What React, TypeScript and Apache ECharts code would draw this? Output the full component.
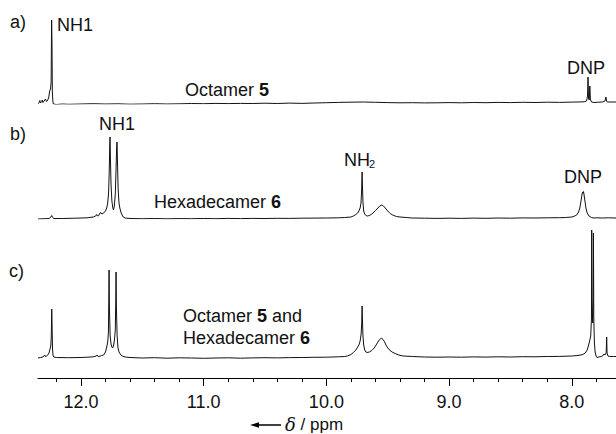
import React, { useEffect, useRef } from "react";
import * as echarts from "echarts";

// chemical shift range (ppm), axis runs right-to-left
const ppmMin = 7.64;
const ppmMax = 12.35;
const majorTicks = [8, 9, 10, 11, 12];
const minorTicks = [7.8, 8.2, 8.4, 8.6, 8.8, 9.2, 9.4, 9.6, 9.8, 10.2, 10.4, 10.6, 10.8, 11.2, 11.4, 11.6, 11.8, 12.2];

// a) Octamer 5  [ppm, intensity]
const traceA: number[][] = [
  [12.35, 0.5], [12.34, 1.5], [12.335, 3.5], [12.33, 1], [12.32, 2.5], [12.315, 4], [12.31, 1.5], [12.3, 3],
  [12.29, 5], [12.28, 2.5], [12.27, 4], [12.262, 7], [12.255, 13], [12.248, 15], [12.243, 22], [12.239, 84],
  [12.236, 60], [12.233, 12], [12.229, 3], [12.225, 0], [12.2, -0.5], [12.15, 0], [12.1, -0.3], [12.0, 0],
  [11.9, 0.3], [11.8, 0], [11.7, 0.2], [11.6, -0.2], [11.5, 0], [11.4, 0.3], [11.3, 0], [11.2, 0.2],
  [11.1, 0.5], [11.0, 0.3], [10.9, 0.6], [10.8, 0.4], [10.7, 0.6], [10.6, 0.5], [10.5, 0.8], [10.4, 0.5],
  [10.3, 0.9], [10.2, 0.6], [10.1, 1], [10.0, 1.3], [9.9, 1.6], [9.8, 1.8], [9.7, 2], [9.6, 1.7],
  [9.5, 1.4], [9.4, 1.2], [9.3, 1.3], [9.2, 1.1], [9.1, 1.2], [9.0, 1.4], [8.9, 1.2], [8.8, 1.5],
  [8.7, 1.3], [8.6, 1.6], [8.5, 1.4], [8.4, 1.7], [8.3, 1.5], [8.2, 1.8], [8.1, 1.6], [8.0, 1.9],
  [7.95, 2], [7.9, 2.2], [7.88, 3], [7.872, 8], [7.868, 27], [7.864, 6], [7.858, 4], [7.853, 18],
  [7.849, 5], [7.84, 2], [7.82, 1.5], [7.78, 1.8], [7.75, 2], [7.73, 3], [7.722, 7], [7.717, 3],
  [7.71, 2], [7.68, 2], [7.64, 2],
];

// b) Hexadecamer 6
const traceB: number[][] = [
  [12.35, 0], [12.3, 0.3], [12.26, 0.5], [12.245, 2], [12.238, 3.5], [12.23, 1.5], [12.22, 0.5], [12.15, 0.5],
  [12.05, 0.8], [11.95, 1.2], [11.9, 2], [11.88, 3], [11.872, 4.5], [11.865, 3], [11.855, 3.5], [11.845, 6],
  [11.838, 6.5], [11.83, 5], [11.815, 6], [11.8, 8], [11.79, 11], [11.782, 16], [11.775, 26], [11.77, 45],
  [11.766, 70], [11.763, 82], [11.76, 62], [11.755, 35], [11.748, 18], [11.74, 11], [11.735, 9], [11.728, 13],
  [11.72, 25], [11.714, 50], [11.709, 72], [11.706, 77], [11.702, 55], [11.697, 30], [11.69, 16], [11.683, 11],
  [11.675, 7], [11.665, 4], [11.655, 2], [11.64, 1], [11.6, 0.5], [11.5, 0.3], [11.4, 0.5], [11.3, 0.2],
  [11.2, 0.4], [11.1, 0.3], [11.0, 0.5], [10.9, 0.3], [10.8, 0.6], [10.7, 0.4], [10.6, 0.6], [10.5, 0.5],
  [10.4, 0.7], [10.3, 0.6], [10.2, 0.8], [10.1, 0.9], [10.0, 1], [9.9, 1.2], [9.85, 1.5], [9.8, 2],
  [9.78, 3], [9.76, 4.5], [9.745, 6], [9.735, 8], [9.725, 11], [9.718, 16], [9.713, 28], [9.709, 47],
  [9.706, 33], [9.702, 17], [9.696, 8], [9.688, 5], [9.678, 3.5], [9.665, 3], [9.65, 3.5], [9.635, 4.5],
  [9.62, 6], [9.6, 8.5], [9.58, 11], [9.565, 13], [9.548, 14], [9.535, 13], [9.52, 11], [9.5, 8],
  [9.48, 5.5], [9.46, 4], [9.43, 2.5], [9.4, 2], [9.35, 1.5], [9.3, 1], [9.2, 0.8], [9.1, 0.6],
  [9.0, 0.8], [8.9, 0.6], [8.8, 0.9], [8.7, 0.7], [8.6, 1], [8.5, 0.8], [8.4, 1.1], [8.3, 1],
  [8.2, 1.2], [8.1, 1.3], [8.05, 1.5], [8.0, 2], [7.98, 2.8], [7.96, 4], [7.945, 7], [7.935, 11],
  [7.925, 18], [7.918, 24], [7.912, 27], [7.908, 26], [7.905, 27.5], [7.9, 24], [7.893, 18], [7.885, 11],
  [7.875, 6], [7.86, 3], [7.84, 1.5], [7.82, 1], [7.8, 1.2], [7.75, 1], [7.7, 1.2], [7.64, 1],
];

// c) Octamer 5 and Hexadecamer 6
const traceC: number[][] = [
  [12.35, 0], [12.33, 0.5], [12.31, 1], [12.295, 3], [12.29, 1.5], [12.28, 2], [12.27, 3], [12.26, 5],
  [12.252, 9], [12.246, 12], [12.242, 20], [12.238, 49], [12.235, 30], [12.232, 10], [12.228, 3], [12.222, 1],
  [12.2, 0.5], [12.1, 0.3], [12.0, 0.5], [11.95, 0.8], [11.9, 1.2], [11.875, 2], [11.868, 3], [11.86, 1.5],
  [11.84, 2], [11.83, 2.5], [11.815, 3], [11.8, 6], [11.79, 11], [11.782, 16], [11.776, 26], [11.773, 60],
  [11.771, 88], [11.768, 50], [11.762, 22], [11.755, 14], [11.748, 11], [11.742, 10], [11.735, 12], [11.727, 18],
  [11.72, 28], [11.716, 60], [11.714, 86], [11.711, 50], [11.705, 22], [11.698, 10], [11.69, 6], [11.68, 4],
  [11.665, 2], [11.64, 1], [11.6, 0.5], [11.5, 0], [11.4, 0.3], [11.3, -0.2], [11.2, 0.2], [11.1, 0],
  [11.0, -0.3], [10.9, 0], [10.8, 0.2], [10.7, -0.2], [10.6, 0.1], [10.5, 0.3], [10.4, 0.1], [10.3, 0.4],
  [10.2, 0.5], [10.1, 0.7], [10.0, 0.8], [9.9, 1.2], [9.85, 1.5], [9.83, 2], [9.8, 3.5], [9.78, 5.5],
  [9.76, 8], [9.75, 10], [9.735, 13], [9.725, 17], [9.717, 24], [9.712, 35], [9.709, 52], [9.706, 38],
  [9.702, 22], [9.696, 13], [9.688, 8], [9.678, 6], [9.668, 5.5], [9.65, 6], [9.63, 7.5], [9.61, 10],
  [9.59, 14], [9.57, 18], [9.55, 20], [9.53, 17], [9.51, 12], [9.49, 8.5], [9.465, 6], [9.44, 4.5],
  [9.41, 3], [9.375, 2], [9.3, 1.5], [9.2, 1], [9.1, 0.8], [9.0, 1], [8.9, 0.8], [8.8, 1.1],
  [8.7, 0.9], [8.6, 1.2], [8.5, 1], [8.4, 1.3], [8.3, 1.2], [8.2, 1.5], [8.1, 1.6], [8.0, 2],
  [7.95, 2.5], [7.91, 3.5], [7.89, 5], [7.875, 8], [7.865, 12], [7.855, 17], [7.846, 22], [7.84, 40],
  [7.838, 128], [7.835, 60], [7.83, 35], [7.826, 50], [7.824, 125], [7.821, 40], [7.816, 15], [7.81, 6],
  [7.803, 2], [7.795, 0.5], [7.78, 1], [7.76, 1.5], [7.745, 2.5], [7.738, 4], [7.73, 3], [7.72, 5],
  [7.716, 21], [7.713, 5], [7.705, 2], [7.69, 1.5], [7.66, 1.5], [7.64, 1.5],
];

const FONT = "'Liberation Sans', Arial, sans-serif";
const INK = "#111";

function label(x: number, y: number, text: string, rich?: any, size = 18) {
  return {
    type: "text",
    x,
    y,
    silent: true,
    style: {
      text,
      fontSize: size,
      fontFamily: FONT,
      fill: INK,
      textAlign: "left",
      textVerticalAlign: "middle",
      align: "left",
      verticalAlign: "middle",
      rich,
    },
  };
}

const boldRich = {
  n: { fontSize: 18, fontFamily: FONT, color: INK },
  b: { fontSize: 18, fontFamily: FONT, color: INK, fontWeight: "bold" },
};

export default function App() {
  const ref = useRef<HTMLDivElement>(null);
  useEffect(() => {
    if (!ref.current) return;
    const chart = echarts.init(ref.current, undefined, { renderer: "svg" });
    const hiddenX = (gi: number) => ({
      gridIndex: gi,
      type: "value",
      min: ppmMin,
      max: ppmMax,
      inverse: true,
      show: false,
    });
    const series = [traceA, traceB, traceC].map((d, i) => ({
      type: "line",
      xAxisIndex: i,
      yAxisIndex: i,
      data: d,
      showSymbol: false,
      symbol: "none",
      smooth: false,
      lineStyle: { color: INK, width: 1 },
      silent: true,
    }));
    chart.setOption({
      animation: false,
      backgroundColor: "#fff",
      grid: [
        { left: 38, right: 0, top: 4, height: 100 },
        { left: 38, right: 0, top: 119, height: 100 },
        { left: 38, right: 0, top: 228, height: 150 },
      ],
      xAxis: [
        hiddenX(0),
        hiddenX(1),
        {
          gridIndex: 2,
          type: "value",
          min: ppmMin,
          max: ppmMax,
          inverse: true,
          position: "bottom",
          axisLine: { show: true, onZero: false, lineStyle: { color: "#000", width: 1 } },
          axisTick: { show: true, inside: false, length: 8, customValues: majorTicks, lineStyle: { color: "#000", width: 1 } },
          axisLabel: {
            show: true,
            customValues: majorTicks,
            formatter: (v: number) => v.toFixed(1),
            fontSize: 18,
            fontFamily: FONT,
            color: INK,
            margin: 15,
          },
          splitLine: { show: false },
        },
        {
          gridIndex: 2,
          type: "value",
          min: ppmMin,
          max: ppmMax,
          inverse: true,
          position: "bottom",
          axisLine: { show: false, onZero: false },
          axisTick: { show: true, inside: false, length: 4, customValues: minorTicks, lineStyle: { color: "#000", width: 1 } },
          axisLabel: { show: false },
          splitLine: { show: false },
        },
      ],
      yAxis: [
        { gridIndex: 0, type: "value", min: 0, max: 100, show: false },
        { gridIndex: 1, type: "value", min: 0, max: 100, show: false },
        { gridIndex: 2, type: "value", min: -20, max: 130, show: false },
      ],
      series,
      graphic: [
        label(10, 22, "a)"),
        label(57, 25, "NH1"),
        label(185, 90, "{n|Octamer }{b|5}", boldRich),
        label(567, 68, "DNP"),
        label(10, 134, "b)"),
        label(99, 124, "NH1"),
        label(154, 202, "{n|Hexadecamer }{b|6}", boldRich),
        label(344, 160, "NH"),
        label(369, 164, "2", undefined, 11),
        label(564, 177, "DNP"),
        label(9, 271, "c)"),
        label(183, 316, "{n|Octamer }{b|5}{n| and}", boldRich),
        label(183, 338, "{n|Hexadecamer }{b|6}", boldRich),
        {
          type: "line",
          silent: true,
          shape: { x1: 256, y1: 425, x2: 281, y2: 425 },
          style: { stroke: "#000", lineWidth: 1.5 },
        },
        {
          type: "polygon",
          silent: true,
          shape: { points: [[250, 425], [259, 422.2], [259, 427.8]] },
          style: { fill: "#000" },
        },
        label(285, 424, "{d|δ}{n| / ppm}", {
          d: { fontSize: 18, lineHeight: 16, fontFamily: "'DejaVu Serif', 'Liberation Serif', serif", fontStyle: "italic", color: INK },
          n: { fontSize: 17, lineHeight: 16, fontFamily: FONT, color: INK },
        }, 17),
      ],
    });
    return () => chart.dispose();
  }, []);
  return (
    <div
      ref={ref}
      style={{ position: "absolute", left: 0, top: 0, width: 616, height: 434, background: "#fff" }}
    />
  );
}
